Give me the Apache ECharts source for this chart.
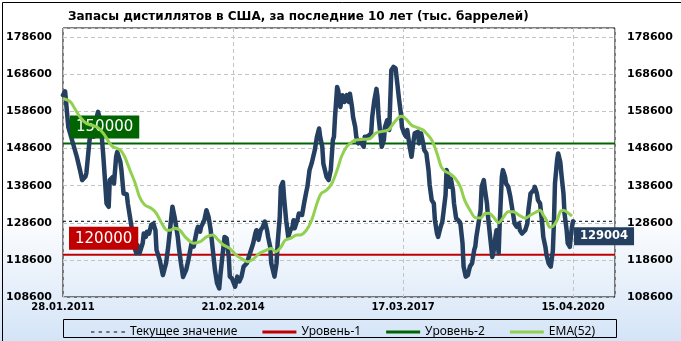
<!DOCTYPE html>
<html>
<head>
<meta charset="utf-8">
<script src="https://cdn.jsdelivr.net/npm/echarts@6/dist/echarts.min.js"></script>
<style>html,body{margin:0;padding:0;background:#fff}#c{width:681px;height:341px}</style>
</head>
<body>
<div id="c"></div>
<script>
// ---- data ----
const titleText = 'Запасы дистиллятов в США, за последние 10 лет (тыс. баррелей)';
const xTickWeeks = [0, 160, 320, 480];
const xTickLabels = ['28.01.2011', '21.02.2014', '17.03.2017', '15.04.2020'];
const yMin = 108600, yMax = 181100, yStep = 10000;
const xMax = 519.5;
const level1 = 120000;
const level2 = 150000;
const currentValue = 129004;
const legendNames = ['Текущее значение', 'Уровень-1', 'Уровень-2', 'EMA(52)'];

const stockWeeks = [0,2,5,13,16,18,21,22,25,27,29,30,33,35,36,38,41,43,44,47,48,50,51,54,55,57,60,61,63,65,66,69,70,72,75,76,78,79,81,83,85,87,88,91,94,97,99,102,103,105,108,109,111,113,116,118,121,123,126,127,129,130,133,135,137,139,141,143,145,147,148,150,152,154,156,157,159,160,162,164,166,168,170,173,176,179,181,182,184,186,188,190,192,193,195,196,199,201,202,204,205,207,208,210,212,214,216,217,218,221,222,225,227,229,230,232,234,237,239,241,242,244,245,248,250,252,254,255,256,258,259,261,263,265,267,269,270,272,273,275,276,278,280,281,283,284,286,288,290,291,293,295,296,297,299,300,302,303,305,307,308,309,311,313,315,316,318,319,321,323,324,326,328,330,331,334,335,337,339,340,342,344,345,347,349,350,352,353,355,357,358,360,361,362,364,365,367,368,370,372,374,376,377,379,381,383,385,387,388,389,391,393,394,396,397,399,400,402,404,405,407,408,410,411,413,414,416,417,419,421,422,424,425,427,429,430,432,433,435,437,438,440,441,443,444,446,447,449,451,452,454,455,457,459,461,462,463,465,466,468,469,471,472,474,475,477,478,479,480];
const stockValues = [163000,164000,154400,146400,142800,140100,141000,142000,150900,153600,151800,155000,158500,156200,153600,146400,133800,132900,140100,141000,139200,146400,147700,145000,142800,136500,136300,133800,130200,126600,123100,120400,122600,120400,123100,125700,124800,126200,125700,128000,128400,126600,121300,118600,114500,117700,122100,130200,132900,130200,124800,122100,117700,114000,116000,118600,123100,122200,126600,127500,126200,127500,129300,132000,130200,126600,121300,115900,112300,110900,114100,119500,124800,124400,119400,114100,113600,114100,111400,114100,112800,114100,116800,117700,120400,123100,125700,126600,124000,126600,127500,128900,126600,124800,122100,117700,114100,117700,123100,130200,138300,139600,135600,129300,124800,126600,127500,129300,127100,129800,131100,130700,134000,137000,138300,142800,144600,148200,151800,154000,151800,149100,144600,141000,140100,142800,150900,151800,157100,165200,164300,159800,163000,161200,163000,161200,163400,159800,157100,154400,151800,150000,150900,150000,149100,151800,151800,152200,152700,157100,161600,164700,162500,157100,151800,149100,150900,154400,156200,153600,161600,169700,170600,170200,165200,162500,158000,154400,152700,151800,153600,149500,146400,150900,152700,153100,150000,152700,150000,148200,147300,142800,139000,134700,133800,129300,125700,124800,127100,128900,129300,136000,142800,141900,138300,140500,137400,133800,129800,129300,128400,123100,116800,114100,114500,116800,117700,121300,122200,124800,128400,132000,138300,140100,137800,133800,130200,124800,119400,120400,124800,126600,120400,128400,141000,142800,141000,139200,138300,135600,133800,130200,128400,127500,128400,126600,125700,125300,126600,128400,132000,136500,137000,137400,138300,136500,134700,133800,128400,124800,122100,120000,117700,116800,121000,128400,139200,145500,147300,145000,141900,136500,131100,126600,123100,122100,125000,127500,129004];

const emaWeeks = [0,7,11,16,22,32,38,44,47,54,58,63,68,72,77,83,88,93,98,101,105,110,115,120,123,129,135,141,146,151,157,163,170,174,179,185,192,196,200,205,209,214,220,223,229,234,239,243,248,253,258,262,267,272,276,283,289,294,298,306,311,316,319,324,328,333,336,339,342,347,352,356,360,364,369,374,378,383,388,393,397,401,405,410,414,419,424,429,435,440,444,449,452,455,458,461,465,468,471,476,479];
const emaValues = [162100,161200,159400,157100,155400,154400,152700,150000,149100,148200,146400,142800,139200,135600,133400,132500,131100,128400,126600,126600,127100,126600,124800,123500,123100,123500,124800,125300,124000,122600,121700,119900,118600,118100,118800,120400,121300,121700,120800,122000,123900,124400,125300,125300,126600,129300,133800,136500,137400,139200,142800,146400,149100,150400,150900,151100,151300,152700,153100,153600,155400,157000,157300,156200,154900,154300,154000,153600,152700,150900,147300,143700,142400,141900,140600,138300,134700,132000,130000,129900,131100,131200,130200,128600,129900,131600,131600,130700,129800,130700,131300,132000,130700,129300,127400,127600,129300,131600,132000,131100,130400];

// ---- chart ----
const FONT = 'DejaVu Sans';
const LFONT = 'Noto Sans';
const zip = (a, b) => a.map((v, i) => [v, b[i]]);
const flat = v => [[0, v], [xMax, v]];
const chart = echarts.init(document.getElementById('c'), null, {renderer: 'canvas'});
const lastIdx = stockWeeks.length - 1;
const dashIcon = 'path://M0,0h3.4v1h-3.4z M7.6,0h3.4v1h-3.4z M15.2,0h3.4v1h-3.4z M22.8,0h3.4v1h-3.4z M30.4,0h3.6v1h-3.6z';
const gridLine = {show: true, lineStyle: {color: '#c4c4c4', type: [4, 3], width: 1}};

chart.setOption({
  animation: false,
  backgroundColor: {type: 'linear', x: 0, y: 0, x2: 0, y2: 1, colorStops: [
    {offset: 0, color: '#ffffff'}, {offset: 0.62, color: '#ffffff'}, {offset: 1, color: '#d4e4f7'}]},
  textStyle: {fontFamily: FONT},
  title: {text: titleText, left: 63, top: 6, textStyle: {fontFamily: FONT, fontSize: 12, fontWeight: 'bold', color: '#000'}},
  grid: {left: 63, right: 66, top: 28, bottom: 44, show: true, borderColor: '#000', borderWidth: 1, backgroundColor: 'transparent'},
  legend: {
    left: 86, top: 321, itemWidth: 34, itemHeight: 3, itemGap: 25,
    symbolKeepAspect: true,
    data: [
      {name: legendNames[0], icon: dashIcon, itemStyle: {color: '#000'}},
      {name: legendNames[1], icon: 'rect'},
      {name: legendNames[2], icon: 'rect'},
      {name: legendNames[3], icon: 'rect'}
    ],
    textStyle: {fontFamily: LFONT, fontSize: 12, color: '#000'}
  },
  xAxis: {
    type: 'value', min: 0, max: xMax, interval: 160,
    axisLine: {show: false}, axisTick: {show: false},
    splitLine: gridLine,
    axisLabel: {
      margin: 5, fontFamily: FONT, fontSize: 10, fontWeight: 'bold', color: '#000', showMaxLabel: false,
      formatter: v => { const i = xTickWeeks.indexOf(Math.round(v)); return i >= 0 ? xTickLabels[i] : ''; }
    }
  },
  yAxis: [
    {type: 'value', position: 'left', min: yMin, max: yMax, interval: yStep,
     axisLine: {show: false}, axisTick: {show: false}, splitLine: gridLine,
     axisLabel: {margin: 11, fontFamily: FONT, fontSize: 11, fontWeight: 'bold', color: '#000', showMaxLabel: false, formatter: v => String(v)}},
    {type: 'value', position: 'right', min: yMin, max: yMax, interval: yStep,
     axisLine: {show: false}, axisTick: {show: false}, splitLine: {show: false},
     axisLabel: {margin: 12, fontFamily: FONT, fontSize: 11, fontWeight: 'bold', color: '#000', showMaxLabel: false, formatter: v => String(v)}}
  ],
  series: [
    {name: legendNames[0], type: 'line', symbol: 'none', data: flat(currentValue), z: 3,
     lineStyle: {color: '#000', width: 1, type: [3, 3]}, itemStyle: {color: '#000'}},
    {name: legendNames[1], type: 'line', symbol: 'none', data: flat(level1), z: 3,
     lineStyle: {color: '#c00000', width: 2}, itemStyle: {color: '#c00000'},
     markPoint: {symbol: 'rect', symbolSize: 0, data: [{coord: [0, level1]}],
       label: {show: true, formatter: String(level1), position: [6, -28], color: '#fff', fontFamily: FONT, fontSize: 15,
         backgroundColor: '#c00000', padding: [3, 6, 2, 6], lineHeight: 18}}},
    {name: legendNames[2], type: 'line', symbol: 'none', data: flat(level2), z: 3,
     lineStyle: {color: '#006400', width: 2}, itemStyle: {color: '#006400'},
     markPoint: {symbol: 'rect', symbolSize: 0, data: [{coord: [0, level2]}],
       label: {show: true, formatter: String(level2), position: [7, -28], color: '#fff', fontFamily: FONT, fontSize: 15,
         backgroundColor: '#006400', padding: [3, 6, 2, 6], lineHeight: 18}}},
    {name: 'Запасы', type: 'line', symbol: 'none', data: zip(stockWeeks, stockValues), z: 4,
     lineStyle: {color: '#243f60', width: 4.5, join: 'round', cap: 'round'},
     markPoint: {symbol: 'rect', symbolSize: 0, data: [{coord: [stockWeeks[lastIdx], stockValues[lastIdx]]}],
       label: {show: true, formatter: String(currentValue), position: [1, 6], color: '#fff', fontFamily: FONT, fontSize: 11.5, fontWeight: 'bold',
         backgroundColor: '#243f60', padding: [2, 6, 2, 6], lineHeight: 14}}},
    {name: legendNames[3], type: 'line', symbol: 'none', smooth: 0.3, data: zip(emaWeeks, emaValues), z: 5,
     lineStyle: {color: '#92d050', width: 3}, itemStyle: {color: '#92d050'}}
  ],
  graphic: [
    {type: 'rect', left: 0, top: 0, shape: {x: 0.5, y: 0.5, width: 680, height: 340}, style: {fill: 'none', stroke: '#000', lineWidth: 1}, silent: true, z: 100},
    {type: 'rect', shape: {x: 63.5, y: 319.5, width: 553, height: 18}, style: {fill: 'none', stroke: '#000', lineWidth: 1}, silent: true, z: 100}
  ]
});
</script>
</body>
</html>
